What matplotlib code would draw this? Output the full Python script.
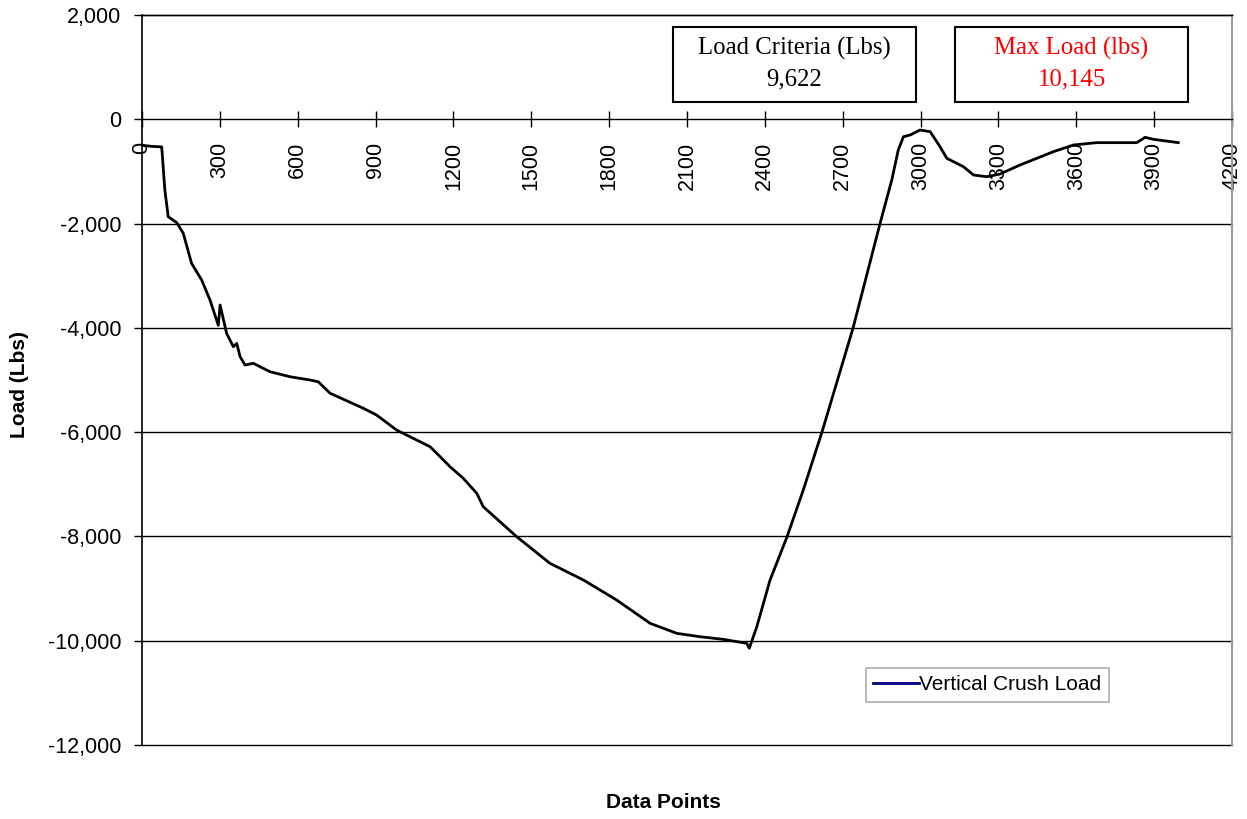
import matplotlib
matplotlib.use("Agg")
import matplotlib.pyplot as plt
from matplotlib.lines import Line2D
from matplotlib.ticker import FuncFormatter

# ---- data ----
data_points = [0, 40, 76, 88, 101, 134, 159, 191, 230, 262, 294, 301, 326, 352, 365,
               378, 397, 429, 493, 570, 647, 679, 725, 853, 904, 981, 1110, 1136, 1187,
               1238, 1290, 1315, 1444, 1572, 1701, 1829, 1958, 2061, 2150, 2240, 2330,
               2340, 2369, 2420, 2486, 2548, 2620, 2680, 2740, 2844, 2889, 2914, 2934,
               2960, 2998, 3037, 3075, 3101, 3165, 3204, 3255, 3306, 3383, 3512, 3589,
               3679, 3833, 3865, 3897, 3993]
vertical_crush_load = [-500, -520, -530, -1356, -1868, -1983, -2187, -2762, -3083, -3466,
                       -3950, -3562, -4105, -4362, -4297, -4553, -4713, -4680, -4841,
                       -4937, -5000, -5033, -5255, -5543, -5672, -5960, -6280, -6407,
                       -6663, -6886, -7174, -7431, -8006, -8516, -8836, -9220, -9667,
                       -9859, -9923, -9974, -10050, -10145, -9731, -8836, -8000, -7110,
                       -6000, -5000, -4000, -1995, -1165, -589, -334, -301, -206, -238,
                       -526, -748, -909, -1069, -1101, -1050, -877, -621, -493, -448,
                       -448, -346, -384, -448]
x_ticks = list(range(0, 4201, 300))
y_ticks = list(range(-12000, 2001, 2000))
series_name = "Vertical Crush Load"
criteria_label = "Load Criteria (Lbs)"
criteria_value = "9,622"
max_label = "Max Load (lbs)"
max_value = "10,145"

W, H = 1247, 819
fig = plt.figure(figsize=(W / 100, H / 100), dpi=100)
ax = fig.add_axes([142 / W, 1 - 745 / H, (1232 - 142) / W, (745 - 15) / H])

ax.plot(data_points, vertical_crush_load, color="black", lw=2.0, zorder=3)

ax.set_xlim(0, 4200)
ax.set_ylim(-12000, 2000)
ax.set_xticks(x_ticks)
ax.set_yticks(y_ticks)
ax.yaxis.set_major_formatter(FuncFormatter(lambda v, p: f"{int(v):,}"))

for yv in y_ticks:
    if yv != 0:
        ax.axhline(yv, color="black", lw=1.0, zorder=1, clip_on=False)

ax.spines["bottom"].set_position(("data", 0))
ax.spines["bottom"].set_linewidth(1.0)
ax.spines["left"].set_linewidth(1.2)
ax.spines["top"].set_linewidth(1.0)
ax.spines["right"].set_color("#9a9a9a")
ax.spines["right"].set_linewidth(1.5)

fs = 15.5
tick_font = "Liberation Sans"
ax.tick_params(axis="x", direction="inout", length=12, width=1, pad=10,
               labelsize=fs, labelrotation=90)
ax.tick_params(axis="y", direction="out", length=6, width=1, pad=9, labelsize=fs)
for lab in ax.get_xticklabels() + ax.get_yticklabels():
    lab.set_fontfamily(tick_font)

fig.text(20 / W, 1 - 385 / H, "Load (Lbs)", rotation=90, ha="center", va="center",
         fontsize=15, fontweight="bold", family=tick_font)
fig.text(663 / W, 1 - 803 / H, "Data Points", ha="center", va="center",
         fontsize=15, fontweight="bold", family=tick_font)

# text boxes
def box(x0, x1, y0, y1, l1, l2, color):
    r = plt.Rectangle((x0 / W, 1 - y1 / H), (x1 - x0) / W, (y1 - y0) / H,
                      transform=fig.transFigure, facecolor="white", edgecolor="black",
                      lw=1.5, zorder=5)
    fig.add_artist(r)
    cx = (x0 + x1) / 2 / W
    fig.text(cx, 1 - 48 / H, l1, ha="center", va="center", fontsize=17.8,
             family="Liberation Serif", color=color, zorder=6)
    fig.text(cx, 1 - 79 / H, l2, ha="center", va="center", fontsize=17.8,
             family="Liberation Serif", color=color, zorder=6)

box(673, 916, 27, 102, criteria_label, criteria_value, "black")
box(955, 1188, 27, 102, max_label, max_value, "red")

handle = Line2D([], [], color="#000080", lw=2)
leg = ax.legend([handle], [series_name], loc="upper left",
                bbox_to_anchor=((866 - 142) / (1232 - 142), (745 - 668) / (745 - 15)),
                prop={"family": tick_font, "size": 15}, frameon=True, fancybox=False,
                borderpad=0.35, handlelength=2.2, handletextpad=0.0, borderaxespad=0)
leg.get_frame().set_edgecolor("#9a9a9a")
leg.get_frame().set_linewidth(1.2)

fig.savefig("out.png", dpi=100)
